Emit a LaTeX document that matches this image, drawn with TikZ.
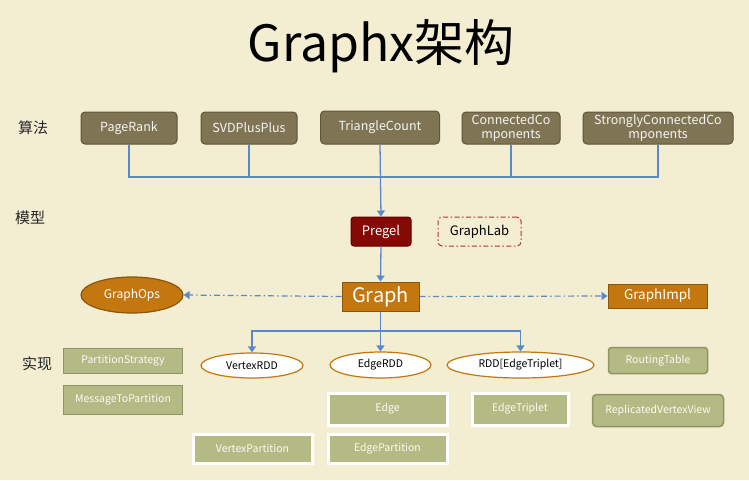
\documentclass[tikz,border=0pt]{standalone}
\usepackage{fontspec}
\setmainfont{Noto Sans CJK SC}
\usetikzlibrary{arrows.meta,shapes.geometric}
\definecolor{bg}{HTML}{F3EDD2}
\definecolor{olive}{HTML}{7F7453}
\definecolor{oliveb}{HTML}{5F553A}
\definecolor{dred}{HTML}{850A05}
\definecolor{dredb}{HTML}{5E0000}
\definecolor{orng}{HTML}{C4770F}
\definecolor{orngb}{HTML}{8C5508}
\definecolor{grn}{HTML}{B4BA83}
\definecolor{grnb}{HTML}{8E9562}
\definecolor{conn}{HTML}{5A8AC6}
\definecolor{labred}{HTML}{B03030}
\tikzset{
  algo/.style={rectangle,rounded corners=4pt,fill=olive,draw=oliveb,line width=1pt,text=white!92!olive,font=\fontsize{12.5}{14.5}\selectfont,align=center,inner sep=0pt},
  obox/.style={rectangle,fill=orng,draw=orngb,line width=1pt,text=white,inner sep=0pt},
  oell/.style={ellipse,fill=white,draw=orng,line width=1.2pt,font=\fontsize{10.5}{12}\selectfont,inner sep=0pt},
  gbox/.style={rectangle,fill=grn,draw=grnb,line width=1.5pt,text=white!95!grn,font=\fontsize{10.5}{12}\selectfont,inner sep=0pt},
  wbox/.style={rectangle,fill=grn,draw=white,line width=3pt,text=white!95!grn,font=\fontsize{10.5}{12}\selectfont,inner sep=0pt},
  sidelbl/.style={font=\fontsize{15}{16}\selectfont,text=black!85},
  conline/.style={draw=conn,line width=1.3pt},
  conarr/.style={conline,-{Triangle[width=8pt,length=6pt]}},
  dd/.style={conn,line width=1.2pt,dash pattern=on 6pt off 3pt on 1.5pt off 3pt,-{Triangle[width=8pt,length=6pt]}}
}
\begin{document}
\begin{tikzpicture}[x=1pt,y=-1pt]
\fill[bg] (0,0) rectangle (749,480);
\useasboundingbox (0,0) rectangle (749,480);
\node (title) at (381,46) {\fontsize{50}{54}\selectfont Graphx架构};
\node[sidelbl] (l1) at (33,128) {算法};
\node[sidelbl] (l2) at (30,218) {模型};
\node[sidelbl] (l3) at (37,364) {实现};

\node[algo,minimum width=96pt,minimum height=32pt] (pr) at (129,128) {PageRank};
\node[algo,minimum width=96pt,minimum height=32pt] (svd) at (249,128) {SVDPlusPlus};
\node[algo,minimum width=119pt,minimum height=33pt] (tc) at (380,127.5) {TriangleCount};
\node[algo,minimum width=98pt,minimum height=32pt] (cc) at (511,128) {ConnectedCo\\mponents};
\node[algo,minimum width=150pt,minimum height=32pt] (scc) at (658,128) {StronglyConnectedCo\\mponents};

\node[rectangle,rounded corners=3pt,fill=dred,draw=dredb,line width=1pt,text=white,font=\fontsize{13}{14}\selectfont,minimum width=60pt,minimum height=29pt,inner sep=0pt] (pregel) at (381,231.5) {Pregel};
\node[rectangle,rounded corners=4pt,draw=labred,line width=1pt,dash pattern=on 5pt off 2.5pt on 1.5pt off 2.5pt,font=\fontsize{13}{14}\selectfont,minimum width=83pt,minimum height=29pt,inner sep=0pt] (glab) at (479.5,231.5) {GraphLab};

\node[obox,font=\fontsize{20}{22}\selectfont,minimum width=77pt,minimum height=29pt] (graph) at (380.5,296.5) {Graph};
\node[ellipse,fill=orng,draw=orngb,line width=1.2pt,text=white,font=\fontsize{12}{13}\selectfont,minimum width=102pt,minimum height=36pt,inner sep=0pt] (gops) at (132,295) {GraphOps};
\node[obox,font=\fontsize{13.5}{14}\selectfont,minimum width=99pt,minimum height=24pt] (gimpl) at (657.5,296) {GraphImpl};

\node[oell,minimum width=102pt,minimum height=25pt] (vrdd) at (252,365.5) {VertexRDD};
\node[oell,minimum width=101pt,minimum height=26pt] (erdd) at (380.5,365) {EdgeRDD};
\node[oell,minimum width=147pt,minimum height=26pt] (trdd) at (520.5,365) {RDD[EdgeTriplet]};

\node[gbox,minimum width=119pt,minimum height=25pt] (ps) at (123,361) {PartitionStrategy};
\node[gbox,minimum width=119pt,minimum height=29pt] (mtp) at (123,400) {MessageToPartition};
\node[wbox,minimum width=119pt,minimum height=29pt] (vp) at (252.5,448.5) {VertexPartition};
\node[wbox,minimum width=119pt,minimum height=32pt] (edge) at (387.5,409) {Edge};
\node[wbox,minimum width=119pt,minimum height=29pt] (ep) at (387.5,448.5) {EdgePartition};
\node[wbox,minimum width=96pt,minimum height=32pt] (et) at (520,409) {EdgeTriplet};
\node[gbox,rounded corners=3pt,minimum width=99pt,minimum height=26pt] (rt) at (658,360.5) {RoutingTable};
\node[gbox,rounded corners=4pt,minimum width=131pt,minimum height=32pt] (rvv) at (658,410.5) {ReplicatedVertexView};

\coordinate (bus) at (380,177);
\draw[conline] (pr.south) -- (pr.south |- bus) -- (scc.south |- bus) -- (scc.south);
\draw[conline] (svd.south) -- (svd.south |- bus);
\draw[conline] (cc.south) -- (cc.south |- bus);
\draw[conarr] (tc.south) -- (pregel.north);
\draw[conarr] (pregel.south) -- (graph.north);
\draw[dd] (graph.west) -- (gops.east);
\draw[dd] (graph.east) -- (gimpl.west);

\coordinate (bus2) at (380.5,331);
\draw[conarr] (graph.south) -- (erdd.north);
\draw[conarr] (bus2) -| (vrdd.north);
\draw[conarr] (bus2) -| (trdd.north);
\end{tikzpicture}
\end{document}
